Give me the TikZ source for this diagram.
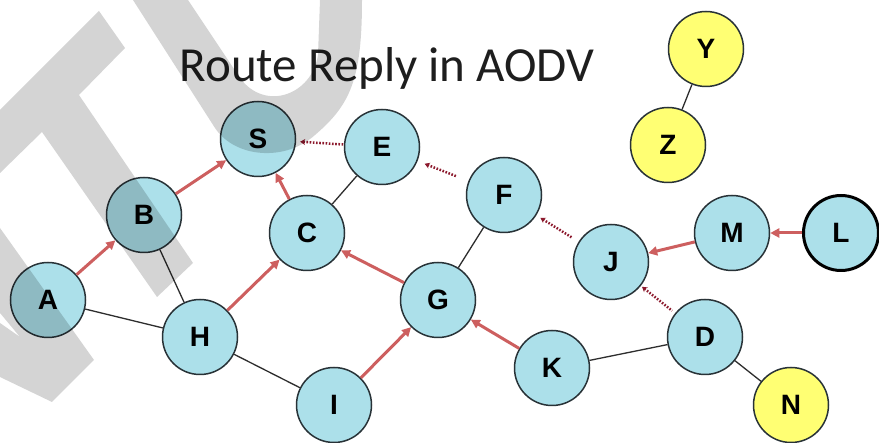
\documentclass[tikz,border=0pt]{standalone}
\usepackage{fontspec}
\setmainfont{Liberation Sans}
\newfontfamily\titlefont{Carlito}
\usetikzlibrary{arrows.meta,calc}
\definecolor{nodefill}{RGB}{172,224,234}
\definecolor{nodeborder}{RGB}{40,50,55}
\definecolor{arrowred}{RGB}{205,95,95}
\definecolor{dotred}{RGB}{140,25,45}
\definecolor{yellowfill}{RGB}{255,255,115}
\definecolor{linkgrey}{RGB}{45,45,45}
\definecolor{titlegrey}{RGB}{30,30,30}
\tikzset{
  netnode/.style={circle,draw=nodeborder,line width=1.5pt,fill=nodefill,minimum size=75pt,inner sep=0pt,
    font=\fontsize{28}{30}\selectfont\bfseries},
  yellownode/.style={netnode,fill=yellowfill},
  thicknode/.style={netnode,line width=3pt,draw=black},
  link/.style={draw=linkgrey,line width=1.3pt},
  rrep/.style={draw=arrowred,line width=3pt,-{Triangle[length=9pt,width=9pt]}},
  partial/.style={draw=dotred,line width=2.5pt,dash pattern=on 1.6pt off 1.6pt,{Stealth[length=5pt,width=6pt]}-},
  watermark/.style={fill=black,opacity=0.17}
}
\begin{document}
\begin{tikzpicture}[x=1pt,y=-1pt]
\useasboundingbox (0,0) rectangle (879,443);
\fill[white] (0,0) rectangle (879,443);
% title
\node[anchor=base,text=titlegrey,font=\titlefont\fontsize{49}{55}\selectfont,inner sep=0pt] (title) at (387,82) {Route Reply in AODV};
% nodes
\node[netnode] (S) at (258,139) {S};
\node[netnode] (E) at (382,147) {E};
\node[netnode] (B) at (144,215) {B};
\node[netnode] (C) at (307,233) {C};
\node[netnode] (A) at (48,300) {A};
\node[netnode] (H) at (200,337) {H};
\node[netnode] (I) at (334,405) {I};
\node[netnode] (G) at (438,300) {G};
\node[netnode] (F) at (504,195) {F};
\node[netnode] (J) at (611,262) {J};
\node[netnode] (M) at (732,233) {M};
\node[thicknode] (L) at (841,233) {L};
\node[netnode] (K) at (552,368) {K};
\node[netnode] (D) at (705,337) {D};
\node[yellownode] (N) at (791,405) {N};
\node[yellownode] (Y) at (706,49) {Y};
\node[yellownode] (Z) at (668,145) {Z};
% plain links
\draw[link] (B) -- (H);
\draw[link] (A) -- (H);
\draw[link] (H) -- (I);
\draw[link] (E) -- (C);
\draw[link] (F) -- (G);
\draw[link] (K) -- (D);
\draw[link] (D) -- (N);
\draw[link] (Y) -- (Z);
% route reply arrows
\draw[rrep] (A) -- (B);
\draw[rrep] (B) -- (S);
\draw[rrep] (C) -- (S);
\draw[rrep] (H) -- (C);
\draw[rrep] (G) -- (C);
\draw[rrep] (I) -- (G);
\draw[rrep] (K) -- (G);
\draw[rrep] (M) -- (J);
\draw[rrep] (L) -- (M);
% partial (in progress) replies
\draw[partial] ($(S)!0.34!(E)$) -- ($(S)!0.69!(E)$);
\draw[partial] ($(E)!0.35!(F)$) -- ($(E)!0.61!(F)$);
\draw[partial] ($(F)!0.34!(J)$) -- ($(F)!0.64!(J)$);
\draw[partial] ($(J)!0.33!(D)$) -- ($(J)!0.65!(D)$);
% watermark
\fill[watermark] (99,11) -- (125,48) -- (79,95) -- (193,263) -- (157,297) -- (42,132) -- (0,173) -- (0,110) -- cycle;
\fill[watermark] (133,0) -- (215,128) .. controls (235,158) and (285,162) .. (315,135) .. controls (350,105) and (362,80) .. (362,0) -- (320,0) -- (318,55) .. controls (312,95) and (265,112) .. (240,78) -- (188,0) -- cycle;
\fill[watermark] (0,228) -- (94,360) -- (52,402) -- (0,377) -- (0,323) -- (20,337) -- (0,313) -- cycle;
\end{tikzpicture}
\end{document}
